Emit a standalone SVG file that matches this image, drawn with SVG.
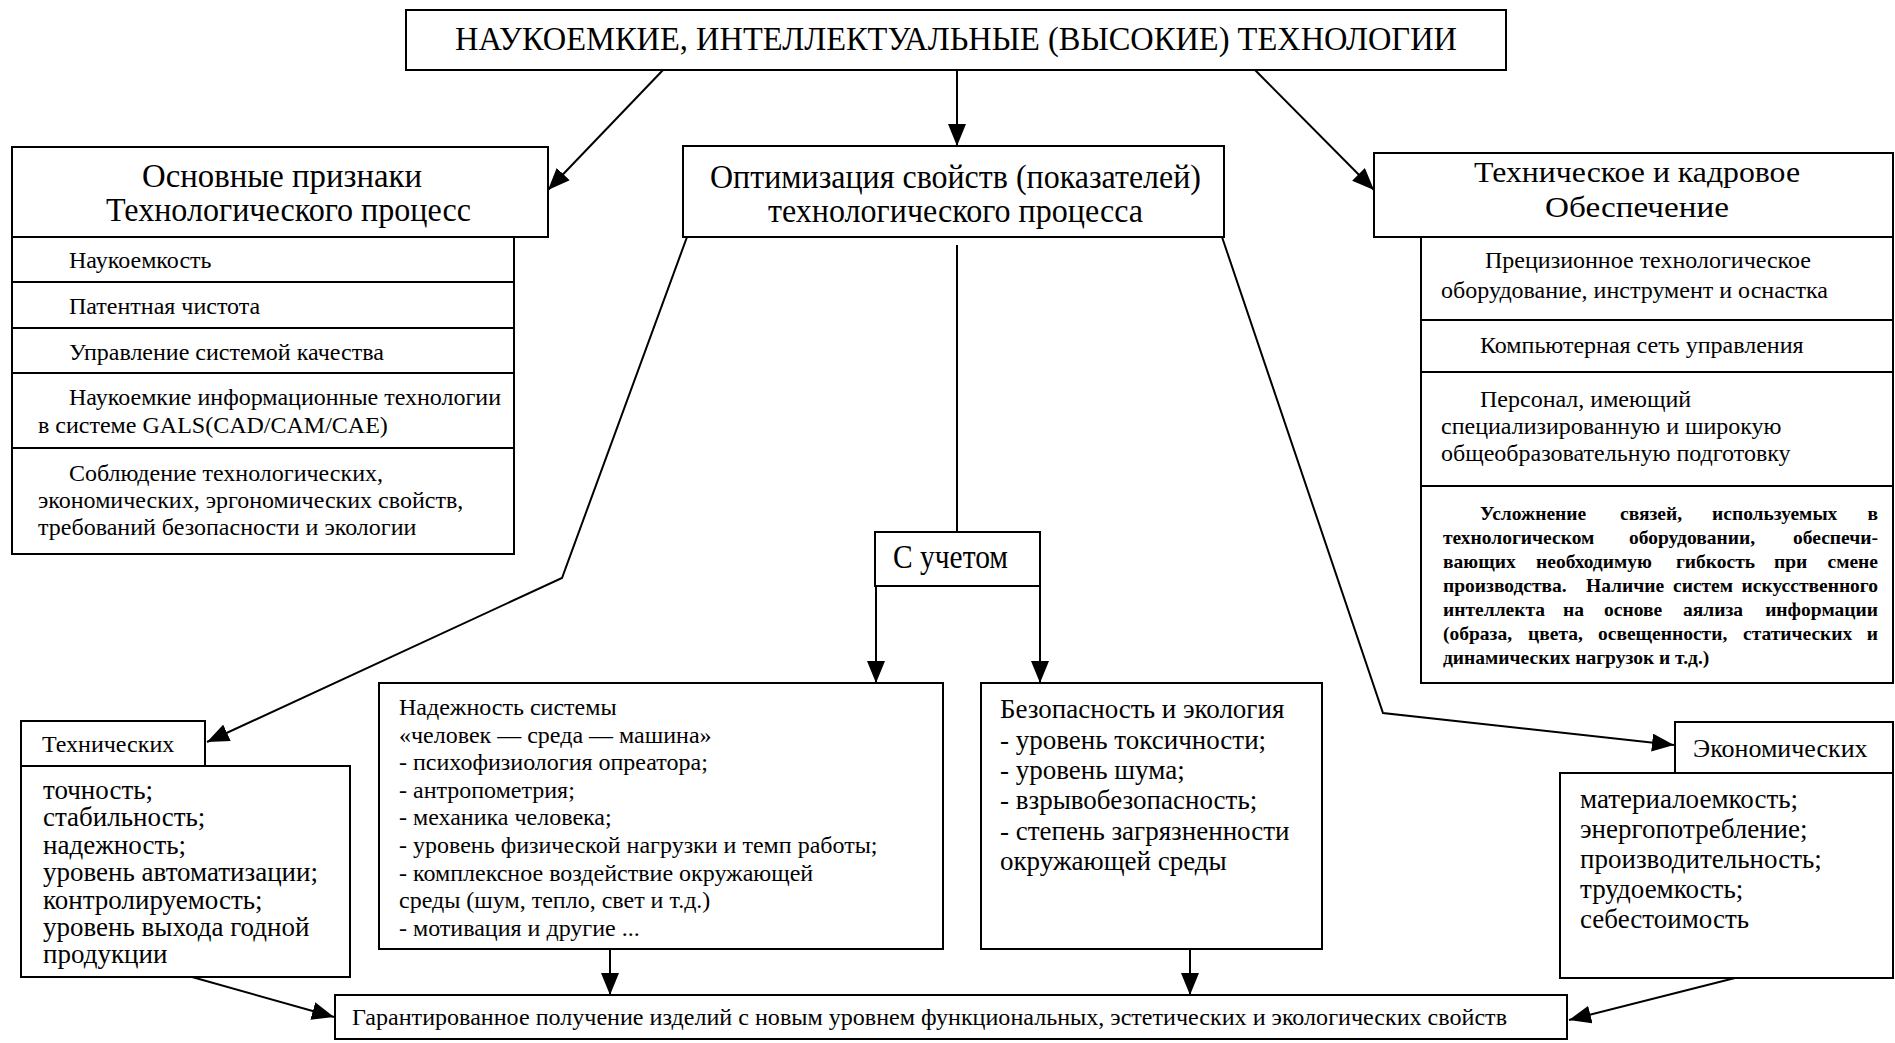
<svg xmlns="http://www.w3.org/2000/svg" width="1895" height="1043" viewBox="0 0 1895 1043">
<defs>
<marker id="ah" markerWidth="22" markerHeight="18" refX="22" refY="9" orient="auto" markerUnits="userSpaceOnUse"><path d="M0,0 L22,9 L0,18 z" fill="#000"/></marker>
<style>
.box{fill:#fff;stroke:#000;stroke-width:2}
.ln{fill:none;stroke:#000;stroke-width:2}
text{font-family:"Liberation Serif","Times New Roman",serif;fill:#000}
.hd{font-size:34px}
.t24{font-size:24px}
.t27{font-size:27px}
.sm{font-size:19.5px;font-weight:bold}
.e{text-anchor:end}
</style>
</defs>
<rect width="1895" height="1043" fill="#fff"/>

<g id="node-top">
<rect class="box" x="406" y="10" width="1100" height="60"/>
<text class="hd" x="455" y="50" textLength="1002" lengthAdjust="spacingAndGlyphs">НАУКОЕМКИЕ, ИНТЕЛЛЕКТУАЛЬНЫЕ (ВЫСОКИЕ) ТЕХНОЛОГИИ</text>
</g>

<g id="node-osnovnye">
<rect class="box" x="12" y="147" width="536" height="90"/>
<text class="hd" x="142" y="187" textLength="280" lengthAdjust="spacingAndGlyphs">Основные признаки</text>
<text class="hd" x="106" y="221" textLength="365" lengthAdjust="spacingAndGlyphs">Технологического процесс</text>
</g>

<g id="node-osnovnye-list">
<rect class="box" x="12" y="237" width="502" height="317"/>
<line class="ln" x1="12" y1="282" x2="514" y2="282"/>
<line class="ln" x1="12" y1="328" x2="514" y2="328"/>
<line class="ln" x1="12" y1="373" x2="514" y2="373"/>
<line class="ln" x1="12" y1="448" x2="514" y2="448"/>
<text class="t24" x="69" y="268">Наукоемкость</text>
<text class="t24" x="69" y="314">Патентная чистота</text>
<text class="t24" x="69" y="360">Управление системой качества</text>
<text class="t24" x="69" y="405">Наукоемкие информационные технологии</text>
<text class="t24" x="38" y="433">в системе GALS(CAD/CAM/CAE)</text>
<text class="t24" x="69" y="481">Соблюдение технологических,</text>
<text class="t24" x="38" y="508">экономических, эргономических свойств,</text>
<text class="t24" x="38" y="535">требований безопасности и экологии</text>
</g>

<g id="node-optim">
<rect class="box" x="683" y="146" width="541" height="91"/>
<text class="hd" x="710" y="188" textLength="491" lengthAdjust="spacingAndGlyphs">Оптимизация свойств (показателей)</text>
<text class="hd" x="768" y="222" textLength="375" lengthAdjust="spacingAndGlyphs">технологического процесса</text>
</g>

<g id="node-tech-kadr">
<rect class="box" x="1374" y="153" width="519" height="84"/>
<text class="hd" x="1474" y="182" style="font-size:30px" textLength="326" lengthAdjust="spacingAndGlyphs">Техническое и кадровое</text>
<text class="hd" x="1545" y="217" style="font-size:30px" textLength="184" lengthAdjust="spacingAndGlyphs">Обеспечение</text>
</g>

<g id="node-tech-kadr-list">
<rect class="box" x="1421" y="237" width="472" height="446"/>
<line class="ln" x1="1421" y1="320" x2="1893" y2="320"/>
<line class="ln" x1="1421" y1="372" x2="1893" y2="372"/>
<line class="ln" x1="1421" y1="486" x2="1893" y2="486"/>
<text class="t24" x="1485" y="268">Прецизионное технологическое</text>
<text class="t24" x="1441" y="298">оборудование, инструмент и оснастка</text>
<text class="t24" x="1480" y="353">Компьютерная сеть управления</text>
<text class="t24" x="1480" y="407">Персонал, имеющий</text>
<text class="t24" x="1441" y="434">специализированную и широкую</text>
<text class="t24" x="1441" y="461">общеобразовательную подготовку</text>
<text class="sm" y="520"><tspan x="1480">Усложнение</tspan><tspan x="1620">связей,</tspan><tspan x="1712">используемых</tspan></text>
<text class="sm e" x="1878" y="520">в</text>
<text class="sm" y="544"><tspan x="1443">технологическом</tspan><tspan x="1629">оборудовании,</tspan></text>
<text class="sm e" x="1878" y="544">обеспечи-</text>
<text class="sm" y="568"><tspan x="1443">вающих</tspan><tspan x="1536">необходимую</tspan><tspan x="1676">гибкость</tspan><tspan x="1774">при</tspan></text>
<text class="sm e" x="1878" y="568">смене</text>
<text class="sm" y="592"><tspan x="1443">производства.</tspan><tspan x="1586">Наличие</tspan><tspan x="1673">систем</tspan></text>
<text class="sm e" x="1878" y="592">искусственного</text>
<text class="sm" y="616"><tspan x="1443">интеллекта</tspan><tspan x="1563">на</tspan><tspan x="1604">основе</tspan><tspan x="1683">аялиза</tspan></text>
<text class="sm e" x="1878" y="616">информации</text>
<text class="sm" y="640"><tspan x="1443">(образа,</tspan><tspan x="1528">цвета,</tspan><tspan x="1598">освещенности,</tspan><tspan x="1743">статических</tspan></text>
<text class="sm e" x="1878" y="640">и</text>
<text class="sm" x="1443" y="664">динамических нагрузок и т.д.)</text>
</g>

<g id="node-suchetom">
<rect class="box" x="875" y="532" width="165" height="54"/>
<text class="hd" x="893" y="568" textLength="115" lengthAdjust="spacingAndGlyphs">С учетом</text>
</g>

<g id="node-tehnicheskih">
<rect class="box" x="21" y="721" width="184" height="45"/>
<text class="t24" x="42" y="752">Технических</text>
</g>

<g id="node-tehnicheskih-list">
<rect class="box" x="21" y="766" width="329" height="211"/>
<text class="t27" x="43" y="799">точность;</text>
<text class="t27" x="43" y="826.4">стабильность;</text>
<text class="t27" x="43" y="853.8">надежность;</text>
<text class="t27" x="43" y="881.2">уровень автоматизации;</text>
<text class="t27" x="43" y="908.6">контролируемость;</text>
<text class="t27" x="43" y="936">уровень выхода годной</text>
<text class="t27" x="43" y="963.4">продукции</text>
</g>

<g id="node-nadezhnost">
<rect class="box" x="379" y="683" width="564" height="266"/>
<text class="t24" x="399" y="715">Надежность системы</text>
<text class="t24" x="399" y="742.6">«человек — среда — машина»</text>
<text class="t24" x="399" y="770.2">- психофизиология опреатора;</text>
<text class="t24" x="399" y="797.8">- антропометрия;</text>
<text class="t24" x="399" y="825.4">- механика человека;</text>
<text class="t24" x="399" y="853">- уровень физической нагрузки и темп работы;</text>
<text class="t24" x="399" y="880.6">- комплексное воздействие окружающей</text>
<text class="t24" x="399" y="908.2">среды (шум, тепло, свет и т.д.)</text>
<text class="t24" x="399" y="935.8">- мотивация и другие ...</text>
</g>

<g id="node-bezopasnost">
<rect class="box" x="981" y="683" width="341" height="266"/>
<text class="t27" x="1000" y="718">Безопасность и экология</text>
<text class="t27" x="1000" y="748.5">- уровень токсичности;</text>
<text class="t27" x="1000" y="779">- уровень шума;</text>
<text class="t27" x="1000" y="809">- взрывобезопасность;</text>
<text class="t27" x="1000" y="840">- степень загрязненности</text>
<text class="t27" x="1000" y="870">окружающей среды</text>
</g>

<g id="node-ekonomicheskih">
<rect class="box" x="1675" y="722" width="218" height="51"/>
<text class="t24" x="1693" y="757" style="font-size:26px">Экономических</text>
</g>

<g id="node-ekonomicheskih-list">
<rect class="box" x="1560" y="773" width="333" height="205"/>
<text class="t27" x="1580" y="808">материалоемкость;</text>
<text class="t27" x="1580" y="838">энергопотребление;</text>
<text class="t27" x="1580" y="868">производительность;</text>
<text class="t27" x="1580" y="898">трудоемкость;</text>
<text class="t27" x="1580" y="928">себестоимость</text>
</g>

<g id="node-result">
<rect class="box" x="335" y="995" width="1232" height="44"/>
<text class="t24" x="352" y="1025" textLength="1155" lengthAdjust="spacingAndGlyphs">Гарантированное получение изделий с новым уровнем функциональных, эстетических и экологических свойств</text>
</g>

<g id="connectors">
<line class="ln" x1="663" y1="70" x2="548" y2="190" marker-end="url(#ah)"/>
<line class="ln" x1="957" y1="70" x2="957" y2="146" marker-end="url(#ah)"/>
<line class="ln" x1="1255" y1="70" x2="1374" y2="190" marker-end="url(#ah)"/>
<line class="ln" x1="957" y1="245" x2="957" y2="532"/>
<line class="ln" x1="876" y1="586" x2="876" y2="683" marker-end="url(#ah)"/>
<line class="ln" x1="1040" y1="586" x2="1040" y2="683" marker-end="url(#ah)"/>
<polyline class="ln" points="687,237 562,578 207,742" marker-end="url(#ah)"/>
<polyline class="ln" points="1222,237 1383,713 1674,745" marker-end="url(#ah)"/>
<line class="ln" x1="192" y1="977" x2="334" y2="1017" marker-end="url(#ah)"/>
<line class="ln" x1="610" y1="949" x2="610" y2="995" marker-end="url(#ah)"/>
<line class="ln" x1="1190" y1="949" x2="1190" y2="995" marker-end="url(#ah)"/>
<line class="ln" x1="1735" y1="978" x2="1569" y2="1020" marker-end="url(#ah)"/>
</g>
</svg>
